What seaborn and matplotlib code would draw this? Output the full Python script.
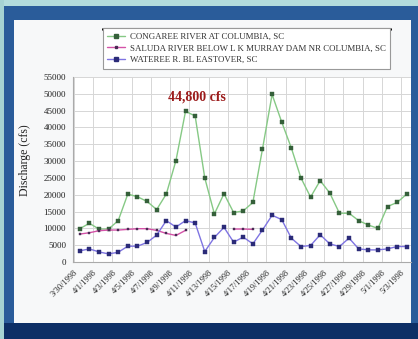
import matplotlib
matplotlib.use("Agg")
import matplotlib.pyplot as plt
from matplotlib.lines import Line2D
from matplotlib.patches import Rectangle
import numpy as np
import pandas as pd
import seaborn as sns

# daily discharge, 3/30/1998 - 5/3/1998 (cfs)
dates = pd.date_range("1998-03-30", "1998-05-03", freq="D")
congaree = [9900, 11500, 9800, 9800, 12300, 20200, 19400, 18000, 15600, 20200,
            30100, 44800, 43400, 25000, 14300, 20300, 14700, 15200, 17700, 33600,
            49800, 41600, 33900, 25000, 19300, 24200, 20500, 14500, 14500, 12300,
            11000, 10000, 16500, 17700, 20200]
saluda = [8300, 8700, 9300, 9500, 9500, 9700, 9900, 9900, 9400, 8500,
          7900, 9400, np.nan, np.nan, np.nan, np.nan, 9800, 9800, 9700, np.nan,
          np.nan, np.nan, np.nan, np.nan, np.nan, np.nan, np.nan, np.nan, np.nan, np.nan,
          np.nan, np.nan, np.nan, np.nan, np.nan]
wateree = [3300, 3900, 3000, 2400, 2900, 4700, 4700, 5800, 8000, 12300,
           10400, 12300, 11600, 3100, 7300, 10300, 5900, 7400, 5400, 9500,
           13900, 12600, 7100, 4600, 4900, 8100, 5400, 4600, 7100, 3900,
           3600, 3600, 3900, 4600, 4600]
series_names = [
    "CONGAREE RIVER AT COLUMBIA, SC",
    "SALUDA RIVER BELOW L K MURRAY DAM NR COLUMBIA, SC",
    "WATEREE R. BL EASTOVER, SC",
]
peak_label = "44,800 cfs"

W, H = 418, 339


def px_rect(fig, x0, y0, x1, y1, color):
    fig.add_artist(Rectangle((x0 / W, 1 - y1 / H), (x1 - x0) / W, (y1 - y0) / H,
                             transform=fig.transFigure, facecolor=color,
                             edgecolor="none", zorder=-10))


def main():
    sns.set_theme(style="white")
    plt.rcParams["font.family"] = ["Liberation Serif", "DejaVu Serif"]

    idx = np.arange(len(dates))
    frames = []
    for name, vals in zip(series_names, [congaree, saluda, wateree]):
        d = pd.DataFrame({"idx": idx, "flow": vals, "river": name})
        d["seg"] = d["flow"].isna().cumsum()
        frames.append(d.dropna())
    df = pd.concat(frames)

    fig = plt.figure(figsize=(W / 100, H / 100), dpi=100)
    fig.patch.set_facecolor("#2a5c9a")
    px_rect(fig, 0, 0, W, 6, "#b3dcdc")
    px_rect(fig, 0, 0, 4, H, "#a6d3d3")
    px_rect(fig, 4, 323, W, H, "#0d2f66")
    px_rect(fig, 14, 20, 411, 323, "#f7f8f9")

    ax = fig.add_axes([73 / W, 1 - 262 / H, (410.6 - 73) / W, (262 - 77) / H])
    ax.set_facecolor("white")

    styles = {
        series_names[0]: dict(color="#86c985", mfc="#35603a", ms=2.2),
        series_names[1]: dict(color="#d452a8", mfc="#4a2a55", ms=2.0),
        series_names[2]: dict(color="#7f74e2", mfc="#2b2b78", ms=2.8),
    }
    for name in series_names:
        st = styles[name]
        sns.lineplot(data=df[df["river"] == name], x="idx", y="flow", units="seg",
                     estimator=None, color=st["color"], linewidth=1.0, marker="s",
                     markersize=st["ms"], markerfacecolor=st["mfc"],
                     markeredgecolor=st["mfc"], markeredgewidth=0.3, ax=ax,
                     legend=False, zorder=3)

    ax.set_xlim(-0.7, 34.4)
    ax.set_ylim(0, 55000)
    ax.set_yticks(np.arange(0, 55001, 5000))
    ax.set_yticklabels([f"{v:d}" for v in range(0, 55001, 5000)], fontsize=6.5, color="#222")
    ax.set_xticks(idx[::2] - 0.6)
    ax.set_xticklabels([f"{d.month}/{d.day}/{d.year}" for d in dates[::2]], fontsize=6, color="#222")
    plt.setp(ax.get_xticklabels(), rotation=45, ha="right", rotation_mode="anchor")
    ax.tick_params(axis="both", length=3, width=0.6, color="#999", pad=2)
    ax.grid(True, color="#d6d6d6", linewidth=0.7)
    ax.set_xlabel("")
    ax.set_ylabel("Discharge (cfs)", fontsize=8.5, color="#222")
    ax.yaxis.set_label_coords(-42 / 337.6, 0.55)
    for s in ["top", "right"]:
        ax.spines[s].set_visible(False)
    for s in ["left", "bottom"]:
        ax.spines[s].set_color("#aaaaaa")
        ax.spines[s].set_linewidth(0.8)

    ax.text(12.2, 49000, peak_label, ha="center", va="center", color="#9c1c1c",
            fontsize=10, fontweight="bold")

    handles = [Line2D([], [], color=styles[n]["color"], marker="s", markersize=styles[n]["ms"],
                      markerfacecolor=styles[n]["mfc"], markeredgecolor=styles[n]["mfc"], lw=1.0)
               for n in series_names]
    leg = fig.legend(handles, series_names, loc="upper left", bbox_to_anchor=(103 / W, 1 - 28 / H),
                     borderaxespad=0, fontsize=6.4, handlelength=2.0, handletextpad=0.5,
                     labelspacing=0.4, borderpad=0.5, frameon=True, fancybox=False, framealpha=1)
    leg.get_frame().set_edgecolor("#999999")
    leg.get_frame().set_linewidth(0.8)
    for t in leg.get_texts():
        t.set_color("#333")
    fig.add_artist(Line2D([103 / W, 390 / W], [1 - 28.5 / H] * 2, color="black", lw=2.2,
                          transform=fig.transFigure))

    fig.savefig("out.png", dpi=100, facecolor=fig.get_facecolor())
    plt.close(fig)


if __name__ == "__main__":
    main()
